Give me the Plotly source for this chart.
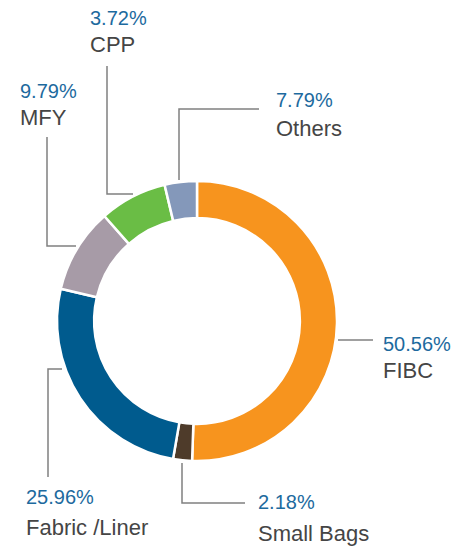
import plotly.graph_objects as go

W, H = 468, 547

# slice data (clockwise from 12 o'clock, as drawn)
slice_names = ["FIBC", "Small Bags", "Fabric /Liner", "MFY", "Green", "BlueGrey"]
slice_values = [50.56, 2.18, 25.96, 9.79, 7.79, 3.72]
slice_colors = ["#F7941E", "#4E3B2A", "#005B8E", "#A79BA7", "#6ABD45", "#8498BA"]

# callout labels
callout_pct = ["50.56%", "2.18%", "25.96%", "9.79%", "3.72%", "7.79%"]
callout_name = ["FIBC", "Small Bags", "Fabric /Liner", "MFY", "CPP", "Others"]

def px(x):
    return x / W

def py(y):
    return 1 - y / H

cx, cy, r = 197, 321, 140

fig = go.Figure(go.Pie(
    labels=slice_names,
    values=slice_values,
    hole=0.735,
    sort=False,
    direction="clockwise",
    rotation=0,
    textinfo="none",
    marker=dict(colors=slice_colors, line=dict(color="white", width=2.5)),
    domain=dict(x=[px(cx - r), px(cx + r)], y=[py(cy + r), py(cy - r)]),
    showlegend=False,
))

# leader line paths (pixel layout positions)
leaders = [
    [(338, 340), (373, 340)],
    [(182, 463), (182, 503), (245, 503)],
    [(62, 369), (48, 369), (48, 477)],
    [(76, 246), (47, 246), (47, 137)],
    [(133, 194), (107, 194), (107, 66)],
    [(179, 180), (179, 109), (259, 109)],
]
# text anchor positions (left x, pct center y, name center y)
text_pos = [
    (381, 344, 370),
    (256, 502, 533),
    (24, 497, 527),
    (18, 91, 118),
    (88, 18, 45),
    (274, 100, 128),
]

FONT = "Liberation Sans, Arial, sans-serif"
shapes = []
for pts in leaders:
    path = "M " + " L ".join(f"{px(x)},{py(y)}" for x, y in pts)
    shapes.append(dict(type="path", path=path, xref="paper", yref="paper",
                       line=dict(color="#808080", width=1.5)))

annotations = []
for (x, yp, yn), p, n in zip(text_pos, callout_pct, callout_name):
    annotations.append(dict(x=px(x), y=py(yp), xref="paper", yref="paper",
                            text=p, showarrow=False, xanchor="left", yanchor="middle",
                            font=dict(family=FONT, size=20, color="#1D6A9E")))
    annotations.append(dict(x=px(x), y=py(yn), xref="paper", yref="paper",
                            text=n, showarrow=False, xanchor="left", yanchor="middle",
                            font=dict(family=FONT, size=22, color="#454545")))

fig.update_layout(
    width=W, height=H,
    margin=dict(l=0, r=0, t=0, b=0),
    paper_bgcolor="white", plot_bgcolor="white",
    shapes=shapes, annotations=annotations,
)

fig.write_html("out.html", config={"displayModeBar": False},
               post_script="document.body.style.margin='0';document.body.style.overflow='hidden';")
